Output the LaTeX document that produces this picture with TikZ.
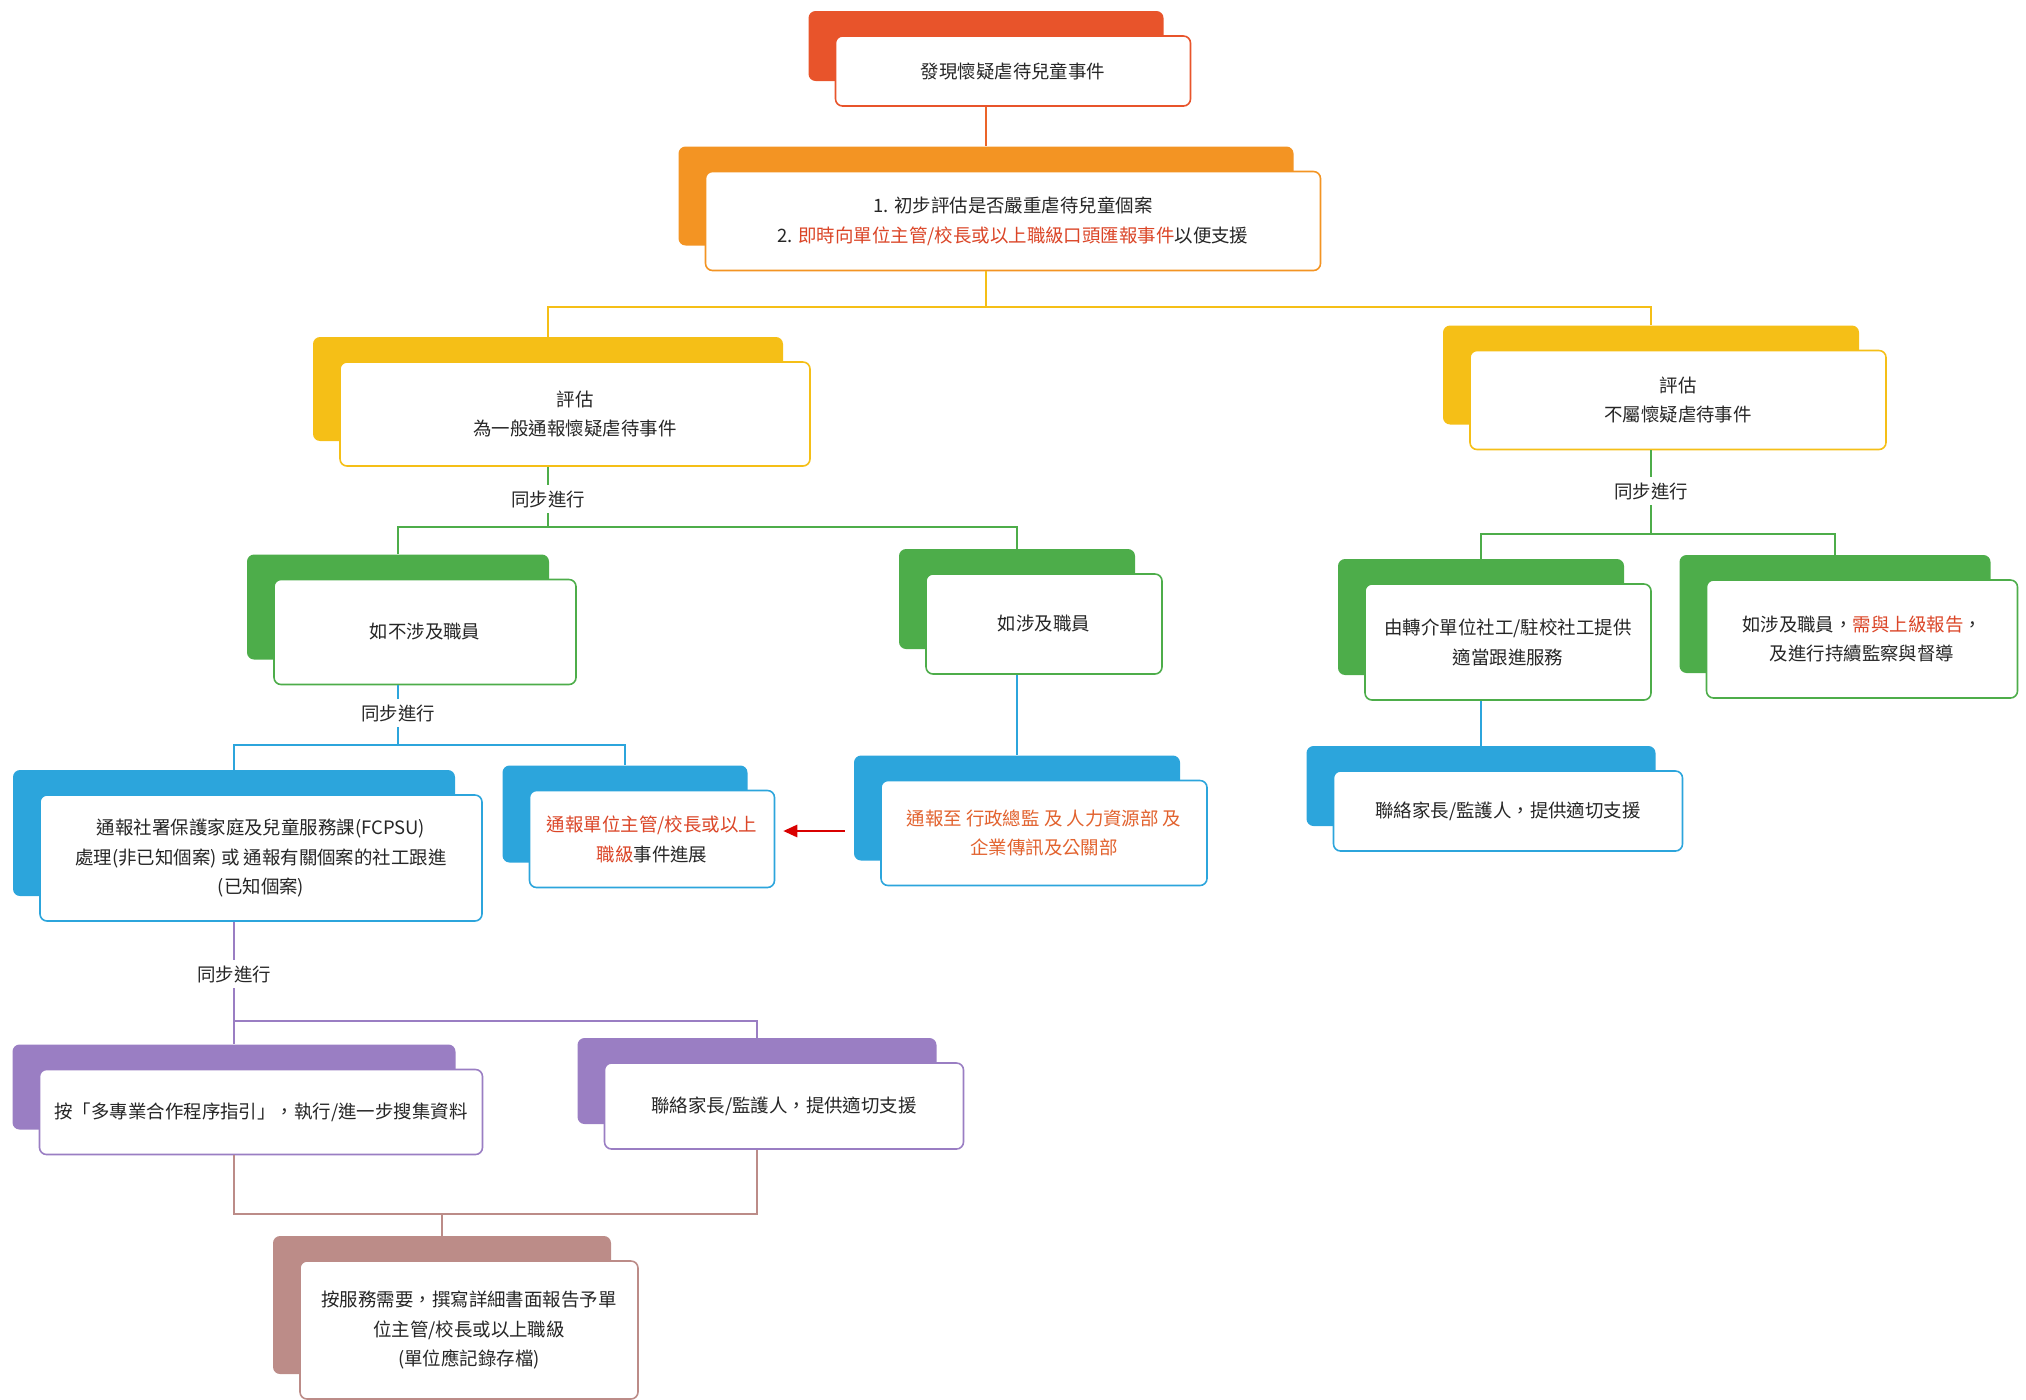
\documentclass[tikz,border=0pt]{standalone}
\usepackage{fontspec}
\setmainfont{Noto Sans CJK TC}
\usetikzlibrary{arrows.meta}
\definecolor{redC}{HTML}{E8542B}
\definecolor{orangeC}{HTML}{F39423}
\definecolor{yellowC}{HTML}{F5BF17}
\definecolor{greenC}{HTML}{4DAD4A}
\definecolor{blueC}{HTML}{2CA5DC}
\definecolor{purpleC}{HTML}{9A7EC3}
\definecolor{brownC}{HTML}{BC8C88}
\definecolor{hotC}{HTML}{DB4527}
\definecolor{warmC}{HTML}{E2622E}
\definecolor{textC}{HTML}{262626}
\begin{document}
\begin{tikzpicture}[x=0.02cm,y=-0.02cm,
  font=\fontsize{10.5}{17}\selectfont,
  cardbg/.style={fill=#1, rounded corners=4pt, inner sep=0pt},
  card/.style={draw=#1, line width=0.9pt, fill=white, rounded corners=4pt,
    inner sep=0pt, align=center, text=textC},
  link/.style={draw=#1, line width=1.1pt},
  together/.style={inner sep=3pt, text=textC}]
   \newcommand{\flowcard}[7]{
        \node[cardbg=#6, minimum width=#4*0.02cm, minimum height=#5*0.02cm] (#1bg) at (#2-27,#3-25) {};
        \node[card=#6, minimum width=#4*0.02cm, minimum height=#5*0.02cm] (#1) at (#2,#3) {#7};
    }
  \useasboundingbox (0,0) rectangle (2026,1400);

  \flowcard{discover}{1013}{71}{355}{70}{redC}{發現懷疑虐待兒童事件}
  \flowcard{assess}{1013}{221}{615}{99}{orangeC}{1. 初步評估是否嚴重虐待兒童個案\\2. {\color{hotC}即時向單位主管/校長或以上職級口頭匯報事件}以便支援}
  \flowcard{general}{575}{414}{470}{104}{yellowC}{評估\\為一般通報懷疑虐待事件}
  \flowcard{nonabuse}{1678}{400}{416}{99}{yellowC}{評估\\不屬懷疑虐待事件}
  \flowcard{nostaff}{425}{632}{302}{105}{greenC}{如不涉及職員}
  \flowcard{staff}{1044}{624}{236}{100}{greenC}{如涉及職員}
  \flowcard{referral}{1508}{642}{286}{116}{greenC}{由轉介單位社工/駐校社工提供\\適當跟進服務}
  \flowcard{superior}{1862}{639}{311}{118}{greenC}{如涉及職員，{\color{hotC}需與上級報告}，\\及進行持續監察與督導}
  \flowcard{fcpsu}{261}{858}{442}{126}{blueC}{通報社署保護家庭及兒童服務課(FCPSU)\\處理(非已知個案) 或 通報有關個案的社工跟進\\(已知個案)}
  \flowcard{notify}{652}{839}{245}{97}{blueC}{{\color{hotC}通報單位主管/校長或以上}\\{\color{hotC}職級}事件進展}
  \flowcard{hr}{1044}{833}{326}{105}{blueC}{{\color{warmC}通報至 行政總監 及 人力資源部 及}\\{\color{warmC}企業傳訊及公關部}}
  \flowcard{familyR}{1508}{811}{349}{80}{blueC}{聯絡家長/監護人，提供適切支援}
  \flowcard{guide}{261}{1112}{443}{85}{purpleC}{按「多專業合作程序指引」，執行/進一步搜集資料}
  \flowcard{familyL}{784}{1106}{359}{86}{purpleC}{聯絡家長/監護人，提供適切支援}
  \flowcard{written}{469}{1330}{338}{138}{brownC}{按服務需要，撰寫詳細書面報告予單\\位主管/校長或以上職級\\(單位應記錄存檔)}

  \node[together] (syncA) at (548,499) {同步進行};
  \node[together] (syncB) at (1651,491) {同步進行};
  \node[together] (syncC) at (398,713) {同步進行};
  \node[together] (syncD) at (234,974) {同步進行};

  \coordinate (busA) at (986,307);
  \coordinate (busB) at (548,527);
  \coordinate (busC) at (1651,534);
  \coordinate (busD) at (398,745);
  \coordinate (busE) at (234,1021);
  \coordinate (busF) at (442,1214);

  \draw[link=redC!75!orangeC] (discover.south -| discoverbg.north) -- (assessbg.north);
  \draw[link=yellowC] (assess.south -| assessbg.north) -- (busA);
  \draw[link=yellowC] (generalbg.north) |- (busA) -| (nonabusebg.north);

  \draw[link=greenC] (general.south -| generalbg.north) -- (syncA.north);
  \draw[link=greenC] (syncA.south) -- (busB);
  \draw[link=greenC] (nostaffbg.north) |- (busB) -| (staffbg.north);
  \draw[link=greenC] (nonabuse.south -| nonabusebg.north) -- (syncB.north);
  \draw[link=greenC] (syncB.south) -- (busC);
  \draw[link=greenC] (referralbg.north) |- (busC) -| (superiorbg.north);

  \draw[link=blueC] (nostaff.south -| nostaffbg.north) -- (syncC.north);
  \draw[link=blueC] (syncC.south) -- (busD);
  \draw[link=blueC] (fcpsubg.north) |- (busD) -| (notifybg.north);
  \draw[link=blueC] (staff.south -| staffbg.north) -- (hrbg.north);
  \draw[link=blueC] (referral.south -| referralbg.north) -- (familyRbg.north);

  \draw[link=purpleC] (fcpsu.south -| fcpsubg.north) -- (syncD.north);
  \draw[link=purpleC] (syncD.south) -- (busE);
  \draw[link=purpleC] (guidebg.north) |- (busE) -| (familyLbg.north);

  \draw[link=brownC] (guide.south -| guidebg.north) |- (busF) -| (familyL.south -| familyLbg.north);
  \draw[link=brownC] (busF) -- (writtenbg.north);

  \draw[-{Triangle[length=8pt,width=7pt]}, draw=red!85!black, fill=red!85!black, line width=1.2pt]
    ([xshift=-0.18cm,yshift=0.16cm]hrbg.west |- notify.east) -- ([xshift=0.16cm,yshift=0.16cm]notify.east);
\end{tikzpicture}
\end{document}
